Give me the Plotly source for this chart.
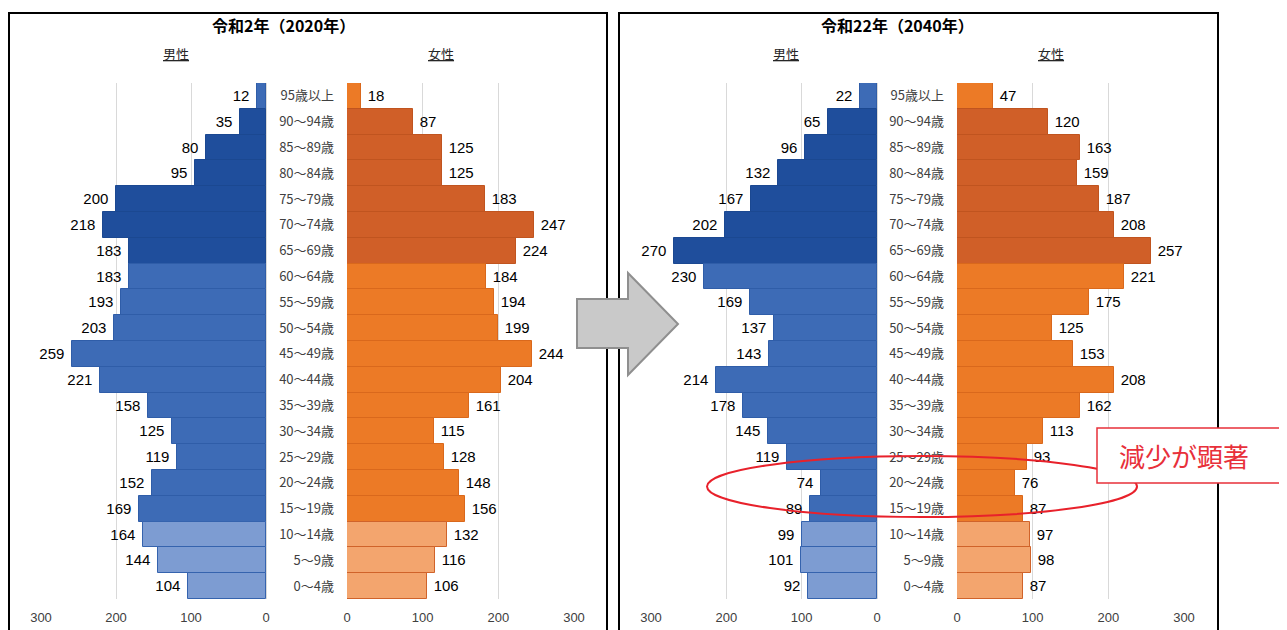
import plotly.graph_objects as go

# Body margin of the html page is 8px, so reference pixel positions are mapped
# with an 8px offset and the figure is sized to reach the window edges.
OFF = 8
W, H = 1287 - OFF, 630 - OFF

ages = ["95歳以上", "90～94歳", "85～89歳", "80～84歳", "75～79歳", "70～74歳", "65～69歳",
        "60～64歳", "55～59歳", "50～54歳", "45～49歳", "40～44歳", "35～39歳", "30～34歳",
        "25～29歳", "20～24歳", "15～19歳", "10～14歳", "5～9歳", "0～4歳"]

male_2020 = [12, 35, 80, 95, 200, 218, 183, 183, 193, 203, 259, 221, 158, 125, 119, 152, 169, 164, 144, 104]
female_2020 = [18, 87, 125, 125, 183, 247, 224, 184, 194, 199, 244, 204, 161, 115, 128, 148, 156, 132, 116, 106]
male_2040 = [22, 65, 96, 132, 167, 202, 270, 230, 169, 137, 143, 214, 178, 145, 119, 74, 89, 99, 101, 92]
female_2040 = [47, 120, 163, 159, 187, 208, 257, 221, 175, 125, 153, 208, 162, 113, 93, 76, 87, 97, 98, 87]

tick_vals = [0, 100, 200, 300]
tick_text = ["0", "100", "200", "300"]

groups = ["mid"] + ["dark"] * 6 + ["mid"] * 10 + ["light"] * 3
blue = {"dark": "#1F4E9C", "mid": "#3D6BB6", "light": "#7D9CD2"}
blue_line = {"dark": "#1B4891", "mid": "#2F5DA8", "light": "#3563AE"}
orange = {"dark": "#D05F28", "mid": "#EC7A26", "light": "#F3A56E"}
orange_line = {"dark": "#C0541F", "mid": "#D9681C", "light": "#D0632A"}

FONT = "Liberation Sans, Noto Sans CJK JP, sans-serif"
JFONT = "Noto Sans CJK JP, sans-serif"


def px(x):
    return (x - OFF) / W


def py(y):
    return 1 - (y - OFF) / H


fig = go.Figure()


def add_bars(vals, xa, ya, male):
    cols = [blue[g] if male else orange[g] for g in groups]
    lcols = [blue_line[g] if male else orange_line[g] for g in groups]
    tmpl = "%{x}\u00a0" if male else "\u00a0%{x}"
    fig.add_trace(go.Bar(
        x=vals, y=ages, orientation="h", xaxis=xa, yaxis=ya,
        marker=dict(color=cols, line=dict(color=lcols, width=1)),
        texttemplate=tmpl, textposition="outside", constraintext="none",
        textfont=dict(family=FONT, size=15, color="#000000"),
        cliponaxis=False, showlegend=False, hoverinfo="skip",
    ))


add_bars(male_2020, "x", "y", True)
add_bars(female_2020, "x2", "y2", False)
add_bars(male_2040, "x3", "y3", True)
add_bars(female_2040, "x4", "y4", False)

ydom = [py(599), py(83)]

xbase = dict(tickvals=tick_vals, ticktext=tick_text, showgrid=True, gridcolor="#D9D9D9",
             gridwidth=1, zeroline=True, zerolinecolor="#D9D9D9", zerolinewidth=1,
             showline=False, ticks="", ticklabelstandoff=9, automargin=False,
             tickfont=dict(family=FONT, size=13, color="#404040"), fixedrange=True)
ybase = dict(type="category", categoryorder="array", categoryarray=ages, autorange="reversed",
             domain=ydom, showgrid=False, zeroline=False, showline=False, ticks="",
             automargin=False, fixedrange=True)

fig.update_layout(
    width=W, height=H, margin=dict(l=0, r=0, t=0, b=0, pad=0), autosize=False,
    paper_bgcolor="white", plot_bgcolor="rgba(0,0,0,0)",
    bargap=0, barmode="overlay",
    xaxis=dict(domain=[px(41), px(266)], range=[300, 0], anchor="y", **xbase),
    yaxis=dict(anchor="x", showticklabels=False, **ybase),
    xaxis2=dict(domain=[px(347), px(574)], range=[0, 300], anchor="y2", **xbase),
    yaxis2=dict(anchor="x2", side="left", showticklabels=True, ticklabelstandoff=12,
                tickfont=dict(family=JFONT, size=13, color="#404040"), **ybase),
    xaxis3=dict(domain=[px(651), px(877)], range=[300, 0], anchor="y3", **xbase),
    yaxis3=dict(anchor="x3", showticklabels=False, **ybase),
    xaxis4=dict(domain=[px(957), px(1184)], range=[0, 300], anchor="y4", **xbase),
    yaxis4=dict(anchor="x4", side="left", showticklabels=True, ticklabelstandoff=12,
                tickfont=dict(family=JFONT, size=13, color="#404040"), **ybase),
)

# Titles and sex labels
ann = [
    (283, 25, "<b>令和2年（2020年）</b>", 16, "#000000"),
    (897, 25, "<b>令和22年（2040年）</b>", 16, "#000000"),
    (176, 53, "<u>男性</u>", 13, "#262626"),
    (441, 53, "<u>女性</u>", 13, "#262626"),
    (786, 53, "<u>男性</u>", 13, "#262626"),
    (1051, 53, "<u>女性</u>", 13, "#262626"),
]
for x, y, t, s, c in ann:
    fig.add_annotation(x=px(x), y=py(y), xref="paper", yref="paper", text=t, showarrow=False,
                       font=dict(family=JFONT, size=s, color=c), xanchor="center", yanchor="middle")

# Panel borders (three sides visible)
for x0, x1 in [(9, 607), (619, 1218)]:
    fig.add_shape(type="path", xref="paper", yref="paper",
                  path=f"M {px(x0)} {py(640)} L {px(x0)} {py(13)} L {px(x1)} {py(13)} L {px(x1)} {py(640)}",
                  line=dict(color="#000000", width=2), layer="below")

# Grey block arrow
pts = [(577, 299), (628, 299), (628, 273), (678, 324), (628, 375), (628, 348), (577, 348)]
path = "M " + " L ".join(f"{px(a)} {py(b)}" for a, b in pts) + " Z"
fig.add_shape(type="path", xref="paper", yref="paper", path=path,
              fillcolor="#C9C9C9", line=dict(color="#8F8F8F", width=2), layer="above")

# Red ellipse
fig.add_shape(type="circle", xref="paper", yref="paper",
              x0=px(707), x1=px(1137), y0=py(517), y1=py(456),
              line=dict(color="#E8212B", width=2), fillcolor="rgba(0,0,0,0)", layer="above")

# Callout box
fig.add_shape(type="rect", xref="paper", yref="paper",
              x0=px(1097), x1=px(1280), y0=py(483), y1=py(428),
              line=dict(color="#E8303A", width=1.5), fillcolor="#FFFFFF", layer="above")
fig.add_annotation(x=px(1184), y=py(455), xref="paper", yref="paper", text="減少が顕著",
                   showarrow=False, font=dict(family=JFONT, size=26, color="#E8303A"),
                   xanchor="center", yanchor="middle")

fig.write_html("out.html")
